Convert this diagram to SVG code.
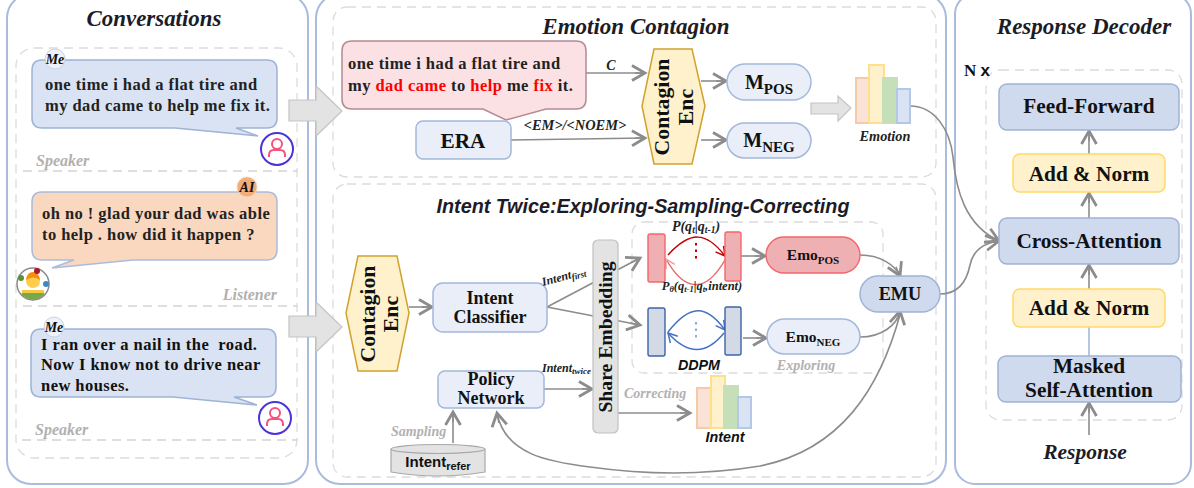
<svg xmlns="http://www.w3.org/2000/svg" width="1194" height="488" viewBox="0 0 1194 488">
<style>
text{font-family:"Liberation Serif",serif;font-weight:bold;fill:#111}
.panel{fill:#fff;stroke:#a9bcdc;stroke-width:2}
.dash{fill:none;stroke:#dcdcdc;stroke-width:1.3;stroke-dasharray:9 6}
.sep{stroke:#bdbdbd;stroke-width:1.2;stroke-dasharray:9 6;fill:none}
.title{font-style:italic;font-size:23px;fill:#1c1c28}
.bub{font-size:16.5px;letter-spacing:.45px;fill:#222;white-space:pre}
.tag{font-style:italic;font-size:14px;fill:#111;text-anchor:middle}
.gray{font-style:italic;font-size:16px;fill:#b3b0b0}
.lab{font-style:italic;font-size:12px;fill:#222}
.ss{font-family:"Liberation Sans",sans-serif;font-style:italic}
.blue{fill:#d9e3f3;stroke:#9fb3d6;stroke-width:1.5}
.pale{fill:#e9eef8;stroke:#a3b8da;stroke-width:1.5}
.dec{fill:#cfdaef;stroke:#9fb3d6;stroke-width:1.5}
.yel{fill:#fff1cc;stroke:#ffd966;stroke-width:1.5}
.hex{fill:#fff1cc;stroke:#d0a22c;stroke-width:1.5}
.node{font-size:21.300px;text-anchor:middle}
.node2{font-size:18px;text-anchor:middle}
.c{fill:none;stroke:#8c8c8c;stroke-width:1.6}
.a{marker-end:url(#ah)}
.hollow{fill:#e3e3e3;stroke:#c4c4c4;stroke-width:1.2}
.b1{fill:#fae3d6;stroke:#f6c9a8;stroke-width:2}
.b2{fill:#fff1cc;stroke:#ffe08a;stroke-width:2}
.b3{fill:#c5dfb8;stroke:#c5dfb8;stroke-width:2}
.b4{fill:#d9e3f3;stroke:#b4c7e7;stroke-width:2}
.av{fill:#fff;stroke:#4a34d8;stroke-width:2}
.pers{fill:none;stroke:#f5527e;stroke-width:2}
</style>
<defs>
<marker id="ah" markerUnits="userSpaceOnUse" markerWidth="20" markerHeight="20" viewBox="-16 -10 18 20" refX="0" refY="0" orient="auto"><path d="M-13,-7.500L0,0L-13,7.500" fill="none" stroke="#8c8c8c" stroke-width="2.800"/><path d="M-10,0H0" stroke="#8c8c8c" stroke-width="1.600"/></marker>
<marker id="ar" markerUnits="userSpaceOnUse" markerWidth="14" markerHeight="14" viewBox="-12 -7 14 14" refX="0" refY="0" orient="auto"><path d="M-9,-5L0,0L-9,5" fill="none" stroke="#c00000" stroke-width="1.500"/></marker>
<marker id="ap" markerUnits="userSpaceOnUse" markerWidth="14" markerHeight="14" viewBox="-12 -7 14 14" refX="0" refY="0" orient="auto"><path d="M-9,-5L0,0L-9,5" fill="none" stroke="#f0a0a0" stroke-width="1.500"/></marker>
<marker id="ab" markerUnits="userSpaceOnUse" markerWidth="14" markerHeight="14" viewBox="-12 -7 14 14" refX="0" refY="0" orient="auto"><path d="M-9,-5L0,0L-9,5" fill="none" stroke="#4472c4" stroke-width="1.500"/></marker>
</defs>
<rect width="1194" height="488" fill="#fff"/>

<g id="panels">
<rect class="panel" x="7" y="-6" width="301" height="490" rx="24"/>
<rect class="panel" x="316" y="-6" width="630" height="490" rx="24"/>
<rect class="panel" x="955" y="-6" width="236" height="490" rx="20"/>
<rect class="dash" x="16" y="48" width="281" height="410" rx="18"/>
<rect class="dash" x="333" y="7" width="603" height="170" rx="14"/>
<rect class="dash" x="333" y="184" width="603" height="293" rx="14"/>
<rect class="dash" x="632" y="222" width="251" height="151" rx="12"/>
<rect class="dash" x="986" y="70" width="196" height="350" rx="14"/>
<path class="sep" d="M23 171H297M23 306H297M22 440H297"/>
<text class="title" x="154" y="26" text-anchor="middle" style="font-size:22.900px">Conversations</text>
<text class="title" x="636" y="34" text-anchor="middle">Emotion Contagion</text>
<text class="title ss" x="643" y="213" text-anchor="middle" style="font-size:19.750px">Intent Twice:Exploring-Sampling-Correcting</text>
<text class="title" x="1084" y="34" text-anchor="middle">Response Decoder</text>
<text class="gray" x="36" y="166">Speaker</text>
<text class="gray" x="277" y="300" text-anchor="end">Listener</text>
<text class="gray" x="35" y="435">Speaker</text>
<text class="gray" x="806" y="370" text-anchor="middle" style="font-size:14px">Exploring</text>
<text class="gray" x="624" y="398" style="font-size:14px">Correcting</text>
<text class="gray" x="391" y="436" style="font-size:14px">Sampling</text>
</g>

<g id="connectors">
<path class="hollow" d="M289 100H316V86L342 111L316 136V121H289Z"/>
<path class="hollow" d="M289 316H316V302L342 327L316 352V337H289Z"/>
<path class="hollow" d="M811 103H838V96L851 108L838 121V114H811Z"/>
<path class="c a" d="M579 73H645"/>
<path class="c a" d="M511 140L645 138"/>
<path class="c a" d="M701 81H726"/>
<path class="c a" d="M701 140H726"/>
<path class="c a" d="M409 307H432"/>
<path class="c a" d="M547 307L640 258"/>
<path class="c a" d="M547 307L640 325"/>
<path class="c a" d="M537 389H592"/>
<path class="c a" d="M453 443V412"/>
<path class="c a" d="M618 413H690"/>
<path class="c a" d="M741 256H765"/>
<path class="c a" d="M743 338H766"/>
<path class="c a" d="M860 255C880 255 895 265 900 276"/>
<path class="c a" d="M860 337C882 337 897 325 900 311"/>
<path class="c a" d="M901 311C880 390 840 450 760 466C700 476 640 474 590 467C550 462 505 455 497 413"/>
<path class="c a" d="M910 106C935 106 950 130 953 157C956 190 965 225 999 241"/>
<path class="c a" d="M940 294C960 294 967 280 970 265C973 250 985 243 999 241"/>
<path class="c a" d="M1089 154V131"/>
<path class="c a" d="M1089 218V193"/>
<path class="c a" d="M1089 289V265"/>
<path d="M1089 327V356" fill="none" stroke="#9fb3d6" stroke-width="1.500"/>
<path class="c a" d="M1089 435V403"/>
<path d="M668 255C690 231 706 231 725 256" fill="none" stroke="#c00000" stroke-width="1.500" marker-end="url(#ar)"/>
<path d="M725 260C706 293 685 293 666 259" fill="none" stroke="#e96a6a" stroke-width="1.500" marker-end="url(#ap)"/>
<path d="M668 332C690 304 706 304 725 330" fill="none" stroke="#4472c4" stroke-width="1.500" marker-end="url(#ab)"/>
<path d="M724 333C706 355 688 355 668 333" fill="none" stroke="#4472c4" stroke-width="1.500" marker-end="url(#ab)"/>
<path d="M696 243V262" stroke="#c00000" stroke-width="2" stroke-dasharray="2.500 4"/>
<path d="M696 322V340" stroke="#8faadc" stroke-width="2" stroke-dasharray="2.500 4"/>
</g>

<g id="bubble-me-1">
<path class="blue" d="M42 60H267Q277 60 277 70V118Q277 128 267 128H236L258 136L175 128H42Q32 128 32 118V70Q32 60 42 60Z"/>
<circle cx="55" cy="59" r="10" fill="#eef2f8" stroke="#c8d3e6"/>
<text x="55" y="64" class="tag">Me</text>
<text class="bub" x="45" y="90">one time i had a flat tire and</text>
<text class="bub" x="45" y="111">my dad came to help me fix it.</text>
</g>
<g id="avatar-speaker-1">
<circle class="av" cx="277" cy="149" r="16"/><circle class="pers" cx="277" cy="144" r="5"/><path class="pers" d="M269 157V155Q269 150 274 150H280Q285 150 285 155V157"/>
</g>
<g id="bubble-ai">
<path d="M42 192H267Q277 192 277 202V250Q277 260 267 260H133L52 268L74 260H42Q32 260 32 250V202Q32 192 42 192Z" fill="#fad8c0" stroke="#a9bcdc" stroke-width="1.500"/>
<circle cx="247" cy="187" r="10" fill="#f2ad78" stroke="#f7d3b8"/>
<text x="247" y="192" class="tag">AI</text>
<text class="bub" x="42" y="219">oh no ! glad your dad was able</text>
<text class="bub" x="42" y="240">to help . how did it happen ?</text>
</g>
<g id="avatar-listener">
<circle cx="33" cy="284" r="16" fill="#fff" stroke="#8a8a8a" stroke-width="1.500"/>
<path d="M21 294Q33 286 45 294Q40 299 33 300Q26 299 21 294Z" fill="#77a84a"/>
<path d="M22 290H44V293H22Z" fill="#f6c945"/>
<circle cx="33" cy="281" r="7" fill="#ffcc4d"/>
<path d="M26 280Q27 272 33 272Q39 272 40 280Q33 275 26 280Z" fill="#f4900c"/>
<circle cx="37" cy="271" r="3" fill="#b3122e"/><circle cx="21" cy="278" r="3" fill="#5c913b"/><circle cx="46" cy="284" r="3" fill="#3b88c3"/>
</g>
<g id="bubble-me-2">
<path class="blue" d="M41 329H266Q276 329 276 339V387Q276 397 266 397H234L257 405L173 397H41Q31 397 31 387V339Q31 329 41 329Z"/>
<circle cx="54" cy="327" r="10" fill="#eef2f8" stroke="#c8d3e6"/>
<text x="54" y="332" class="tag">Me</text>
<text class="bub" x="41" y="350" style="fill:#111">I ran over a nail in the  road.</text>
<text class="bub" x="41" y="370" style="fill:#111">Now I know not to drive near</text>
<text class="bub" x="41" y="391" style="fill:#111">new houses.</text>
</g>
<g id="avatar-speaker-2">
<circle class="av" cx="275" cy="418" r="16"/><circle class="pers" cx="275" cy="413" r="5"/><path class="pers" d="M267 426V424Q267 419 272 419H278Q283 419 283 424V426"/>
</g>

<g id="context-bubble">
<path d="M352 41H576Q586 41 586 51V99Q586 109 576 109H546L506 120L483 109H352Q342 109 342 99V51Q342 41 352 41Z" fill="#fbe1e4" stroke="#b58a92" stroke-width="1.500"/>
<text class="bub" x="348" y="69">one time i had a flat tire and</text>
<text class="bub" x="348" y="91">my <tspan style="fill:#f00">dad came</tspan> to <tspan style="fill:#f00">help</tspan> me <tspan style="fill:#f00">fix</tspan> it.</text>
</g>
<g id="era"><rect class="pale" x="416" y="121" width="95" height="38" rx="7"/><text class="node" x="463" y="148">ERA</text></g>
<g id="labels-top">
<text class="lab" x="611" y="70" text-anchor="middle" style="font-size:14px">C</text>
<text class="lab" x="575" y="130" text-anchor="middle" style="font-size:14.400px">&lt;EM&gt;/&lt;NOEM&gt;</text>
</g>
<g id="contagion-enc-1">
<path class="hex" d="M654 49H692L705 106L692 164H654L642 106Z"/>
<text class="node" transform="translate(669 107) rotate(-90)" style="font-size:21.800px">Contagion</text>
<text class="node" transform="translate(693 107) rotate(-90)" style="font-size:21.800px">Enc</text>
</g>
<g id="m-pos"><rect class="pale" x="727" y="64" width="84" height="36" rx="18"/><text class="node" x="769" y="89" style="font-size:20px">M<tspan font-size="15" dy="5">POS</tspan></text></g>
<g id="m-neg"><rect class="pale" x="727" y="123" width="84" height="35" rx="17.500"/><text class="node" x="769" y="147" style="font-size:20px">M<tspan font-size="15" dy="5">NEG</tspan></text></g>
<g id="emotion-chart">
<rect class="b1" x="856" y="78" width="14" height="45"/><rect class="b2" x="869" y="65" width="15" height="58"/><rect class="b3" x="883" y="78" width="14" height="45"/><rect class="b4" x="897" y="89" width="13" height="34"/>
<text class="lab" x="885" y="141" text-anchor="middle" style="font-size:14.300px">Emotion</text>
</g>

<g id="contagion-enc-2">
<path class="hex" d="M358 256H397L409 313L397 371H358L346 313Z"/>
<text class="node" transform="translate(375 314) rotate(-90)" style="font-size:21.800px">Contagion</text>
<text class="node" transform="translate(398 314) rotate(-90)" style="font-size:21.800px">Enc</text>
</g>
<g id="intent-classifier"><rect class="pale" x="433" y="283" width="114" height="49" rx="10"/><text class="node2" x="490" y="304">Intent</text><text class="node2" x="490" y="323">Classifier</text></g>
<g id="policy-network"><rect class="pale" x="438" y="371" width="106" height="37" rx="7"/><text class="node2" x="491" y="385">Policy</text><text class="node2" x="491" y="404">Network</text></g>
<g id="share-embedding"><rect x="593" y="240" width="25" height="193" rx="5" fill="#e3e3e3" stroke="#c0c0c0" stroke-width="1.200"/><text class="node" transform="translate(612 337) rotate(-90)" style="font-size:19.700px">Share Embedding</text></g>
<g id="intent-labels">
<text class="lab" transform="translate(543 286) rotate(-15)" style="font-size:12px">Intent<tspan font-size="9" dy="2">first</tspan></text>
<text class="lab" x="542" y="372" style="font-size:12px">Intent<tspan font-size="9" dy="2">twice</tspan></text>
</g>
<g id="intent-refer">
<path d="M391 449V472Q438 480 485 472V449" fill="#e3e3e3" stroke="#a8a8a8" stroke-width="1.200"/>
<ellipse cx="438" cy="449" rx="47" ry="4.500" fill="#e3e3e3" stroke="#a8a8a8" stroke-width="1.200"/>
<text x="438" y="467" text-anchor="middle" font-size="15" style="font-family:'Liberation Sans',sans-serif">Intent<tspan font-size="11" dy="3">refer</tspan></text>
</g>
<g id="ddpm-pos">
<rect x="648" y="234" width="17" height="48" rx="2" fill="#eeb0b3" stroke="#f4666c" stroke-width="1.400"/>
<rect x="725" y="232" width="16" height="49" rx="2" fill="#eeb0b3" stroke="#f4666c" stroke-width="1.400"/>
<text class="lab" x="696" y="231" text-anchor="middle" style="font-size:14px">P(q<tspan font-size="9.500" dy="2">t</tspan><tspan dy="-2">|q</tspan><tspan font-size="9.500" dy="2">t-1</tspan><tspan dy="-2">)</tspan></text>
<text class="lab" x="702" y="290" text-anchor="middle" style="font-size:12.500px">P<tspan font-size="8.500" dy="2">θ</tspan><tspan dy="-2">(q</tspan><tspan font-size="8.500" dy="2">t-1</tspan><tspan dy="-2">|q</tspan><tspan font-size="8.500" dy="2">t</tspan><tspan dy="-2">,intent)</tspan></text>
</g>
<g id="ddpm-neg">
<rect x="648" y="308" width="17" height="48" rx="2" fill="#d3dae6" stroke="#3b64a8" stroke-width="1.400"/>
<rect x="725" y="307" width="16" height="48" rx="2" fill="#d3dae6" stroke="#3b64a8" stroke-width="1.400"/>
<text class="ss" x="699" y="370" text-anchor="middle" font-size="14.300">DDPM</text>
</g>
<g id="emo-pos"><rect x="766" y="237" width="94" height="36" rx="18" fill="#eeb0b3" stroke="#f4666c" stroke-width="1.400"/><text class="node2" x="813" y="260" style="font-size:15.500px">Emo<tspan font-size="11" dy="4">POS</tspan></text></g>
<g id="emo-neg"><rect class="pale" x="767" y="319" width="93" height="35" rx="17.500"/><text class="node2" x="813" y="342" style="font-size:15.500px">Emo<tspan font-size="11" dy="4">NEG</tspan></text></g>
<g id="emu"><rect class="dec" x="860" y="276" width="80" height="36" rx="18"/><text class="node" x="900" y="300" style="font-size:18.300px">EMU</text></g>
<g id="intent-chart">
<rect class="b1" x="697" y="388" width="14" height="40"/><rect class="b2" x="711" y="376" width="14" height="52"/><rect class="b3" x="724" y="386" width="14" height="42"/><rect class="b4" x="738" y="397" width="13" height="31"/>
<text class="ss" x="725" y="442" text-anchor="middle" font-size="14.300">Intent</text>
</g>

<g id="n-x"><text x="964" y="76" font-size="17">N <tspan style="font-family:'Liberation Sans',sans-serif">x</tspan></text></g>
<g id="feed-forward"><rect class="dec" x="999" y="84" width="180" height="46" rx="8"/><text class="node" x="1089" y="113">Feed-Forward</text></g>
<g id="add-norm-2"><rect class="yel" x="1013" y="154" width="152" height="38" rx="7"/><text class="node" x="1089" y="181">Add &amp; Norm</text></g>
<g id="cross-attention"><rect class="dec" x="999" y="218" width="180" height="46" rx="8"/><text class="node" x="1089" y="248">Cross-Attention</text></g>
<g id="add-norm-1"><rect class="yel" x="1013" y="289" width="152" height="38" rx="7"/><text class="node" x="1089" y="315">Add &amp; Norm</text></g>
<g id="masked-self-attention"><rect class="dec" x="998" y="356" width="183" height="46" rx="8"/><text class="node" x="1089" y="373">Masked</text><text class="node" x="1089" y="397">Self-Attention</text></g>
<text class="title" x="1085" y="459" text-anchor="middle" style="font-size:21.500px">Response</text>
</svg>
